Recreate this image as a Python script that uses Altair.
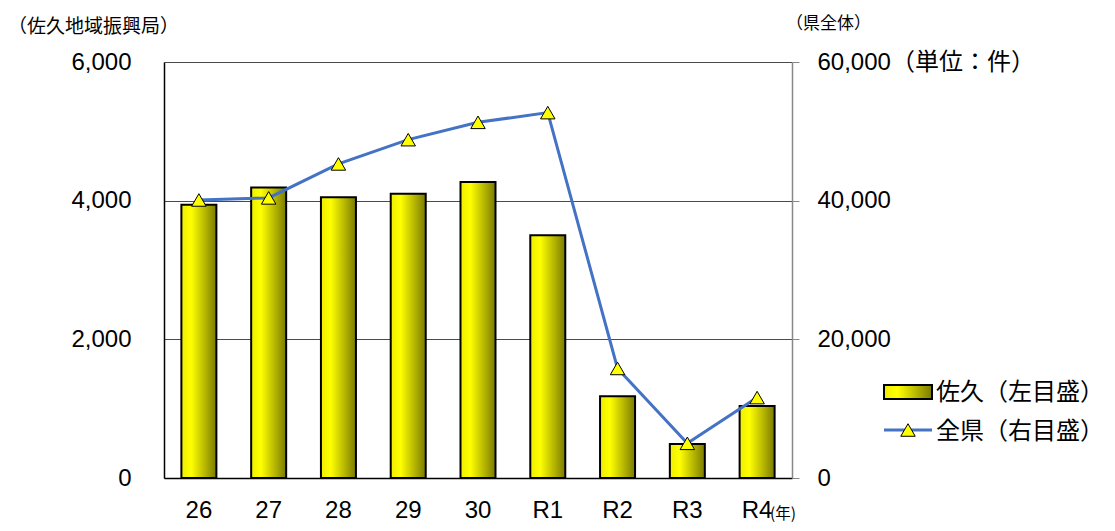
import altair as alt
import pandas as pd

years = ["26", "27", "28", "29", "30", "R1", "R2", "R3", "R4"]
saku = [3940, 4190, 4050, 4100, 4270, 3500, 1180, 490, 1040]
pref = [40100, 40400, 45300, 48800, 51300, 52700, 15800, 5000, 11600]

left_ticks = [0, 2000, 4000, 6000]
right_ticks = [0, 20000, 40000, 60000]

df = pd.DataFrame({"year": years, "saku": saku, "pref": pref})

NUM_FONT = "Liberation Sans, Arial, Noto Sans CJK JP"
JP_FONT = "Noto Sans CJK JP"

grad = alt.Gradient(
    gradient="linear", x1=0, x2=1, y1=0, y2=0,
    stops=[
        alt.GradientStop(offset=0, color="#eeee00"),
        alt.GradientStop(offset=0.28, color="#ffff00"),
        alt.GradientStop(offset=1, color="#7a7a00"),
    ],
)

xenc = alt.X(
    "year:N", sort=years, title=None,
    scale=alt.Scale(paddingInner=0, paddingOuter=0),
    axis=alt.Axis(labelAngle=0, ticks=False, labelPadding=20, labelFontSize=24,
                  labelFont=NUM_FONT, labelColor="black", domainColor="black",
                  domainWidth=1.5),
)

bars = alt.Chart(df).mark_bar(size=35, color=grad, stroke="black", strokeWidth=2).encode(
    x=xenc,
    y=alt.Y("saku:Q", title=None,
            scale=alt.Scale(domain=[0, 6000], nice=False),
            axis=alt.Axis(values=left_ticks, labelExpr="format(datum.value, ',')",
                          labelFontSize=24, labelFont=NUM_FONT,
                          labelColor="black", labelPadding=33, ticks=False,
                          domainColor="black", domainWidth=1.5,
                          grid=True, gridColor="#4a4a4a", gridWidth=1)),
)

yr = alt.Y("pref:Q", title=None,
           scale=alt.Scale(domain=[0, 60000], nice=False),
           axis=alt.Axis(orient="right", values=right_ticks, grid=False,
                         labelExpr="datum.value == 60000 ? '60,000（単位：件）' : format(datum.value, ',')",
                         labelFontSize=24, labelFont=NUM_FONT, labelColor="black",
                         labelLimit=400,
                         labelPadding=18, tickSize=7, tickColor="#888",
                         domainColor="#888", domainWidth=1.5))

line = alt.Chart(df).mark_line(color="#4472C4", strokeWidth=3).encode(x=xenc, y=yr)
pts = alt.Chart(df).mark_point(shape="triangle-up", size=210, filled=True, fill="#ffff00",
                               stroke="black", strokeWidth=1, opacity=1).encode(x=xenc, y=yr)

right = alt.layer(line, pts)

ann = pd.DataFrame({"a": [0]})
base = alt.Chart(ann)

def txt(s, x, y, size, align="left"):
    return base.mark_text(text=s, font=JP_FONT, fontSize=size, align=align,
                          baseline="middle", color="black").encode(
        x=alt.value(x), y=alt.value(y))

t1 = txt("（佐久地域振興局）", -156, -35, 19)
t2 = txt("（県全体）", 622, -38, 17)
t3 = txt("(年)", 606, 452, 15.5)

leg_rect = base.mark_rect(color=grad, stroke="black", strokeWidth=2).encode(
    x=alt.value(720), x2=alt.value(768), y=alt.value(323), y2=alt.value(337))
leg_line = base.mark_rule(color="#4472C4", strokeWidth=3).encode(
    x=alt.value(720), x2=alt.value(768), y=alt.value(368))
leg_pt = base.mark_point(shape="triangle-up", size=210, filled=True, fill="#ffff00",
                         stroke="black", strokeWidth=1, opacity=1).encode(
    x=alt.value(744), y=alt.value(368))
leg_t1 = txt("佐久（左目盛）", 772, 331, 24)
leg_t2 = txt("全県（右目盛）", 772, 370, 24)

main = alt.layer(bars, right).resolve_scale(y="independent")

chart = alt.layer(main, t1, t2, t3, leg_rect, leg_line, leg_pt, leg_t1, leg_t2).properties(
    width=628, height=416,
    autosize=alt.AutoSizeParams(type="none"),
    padding={"left": 156, "top": 54, "right": 315, "bottom": 45},
).configure_view(stroke=None)

chart.save("out.html", embed_options={"renderer": "svg", "actions": False})
